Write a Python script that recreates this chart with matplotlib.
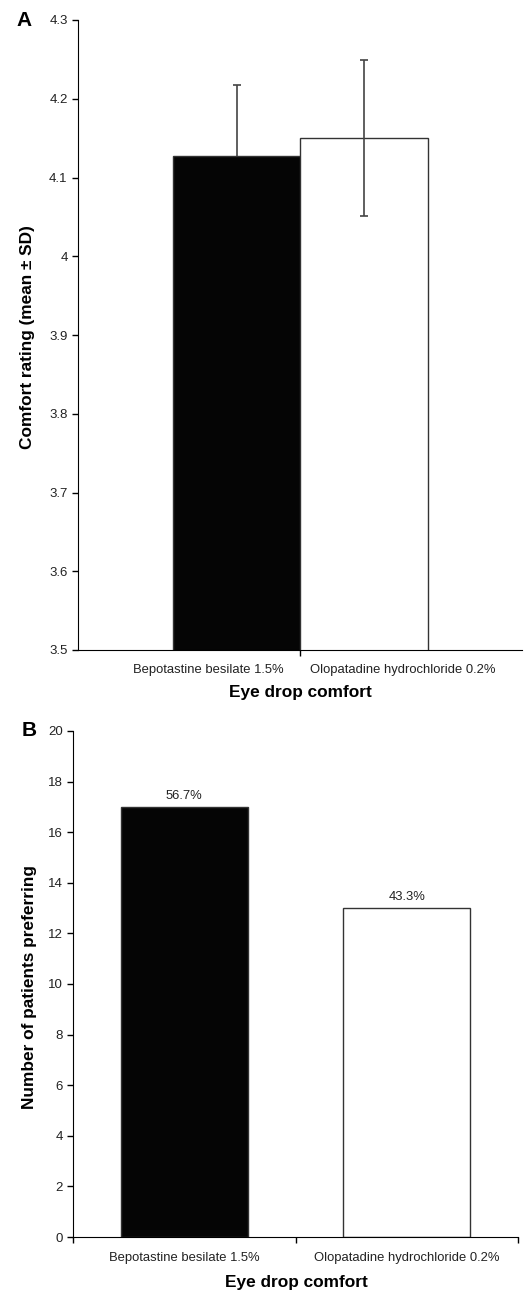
import matplotlib
matplotlib.use("Agg")
import matplotlib.pyplot as plt

plt.rcParams['font.family'] = ['Liberation Sans', 'DejaVu Sans']

categories = ["Bepotastine besilate 1.5%", "Olopatadine hydrochloride 0.2%"]
comfort_mean = [4.127, 4.150]
comfort_sd = [0.091, 0.099]
prefer_counts = [17, 13]
prefer_pct = ["56.7%", "43.3%"]
bar_colors = ["#050505", "white"]

W, H = 529, 1292
fig = plt.figure(figsize=(W/100, H/100), dpi=100)

tick_color = "#222222"
TICK_FS = 9.5
CAT_FS = 9.4
LAB_FS = 12.4

def fx(px):
    return px / W

def fy(py):
    return 1 - py / H

# ---------- Panel A ----------
axA = fig.add_axes([fx(78), fy(650), 444/W, 630/H])
a_centers = [0.716, 1.288]
a_width = 0.577
axA.bar(a_centers, comfort_mean, width=a_width, color=bar_colors,
        edgecolor="#333333", linewidth=1.0, zorder=2)
for x, m, s, z in zip(a_centers, comfort_mean, comfort_sd, [1, 3]):
    axA.errorbar([x], [m], yerr=[s], fmt='none', ecolor="#444444",
                 elinewidth=1.2, capsize=3, capthick=1.2, zorder=z)
axA.set_xlim(0, 2)
axA.set_ylim(3.5, 4.3)
axA.set_yticks([3.5, 3.6, 3.7, 3.8, 3.9, 4.0, 4.1, 4.2, 4.3])
axA.set_yticklabels(["3.5", "3.6", "3.7", "3.8", "3.9", "4", "4.1", "4.2", "4.3"])
axA.set_xticks([0.586, 1.464])
axA.set_xticklabels(categories, fontsize=CAT_FS, color=tick_color)
axA.tick_params(axis='x', which='major', length=0, pad=10)
axA.set_xticks([1.0], minor=True)
axA.tick_params(axis='x', which='minor', length=4, width=1, direction='out')
axA.tick_params(axis='y', length=4, width=1, labelsize=TICK_FS, labelcolor=tick_color)
axA.spines['top'].set_visible(False)
axA.spines['right'].set_visible(False)
fig.text(fx(300), fy(692), "Eye drop comfort", fontsize=LAB_FS, fontweight='bold',
         ha='center', va='center')
fig.text(fx(28), fy(337), "Comfort rating (mean \u00b1 SD)", fontsize=LAB_FS,
         fontweight='bold', ha='center', va='center', rotation=90)
fig.text(fx(16), fy(21), "A", fontsize=15, fontweight='bold', va='center', ha='left')

# ---------- Panel B ----------
axB = fig.add_axes([fx(73), fy(1237), 445/W, 506/H])
b_centers = [0.5, 1.5]
b_width = 0.573
axB.bar(b_centers, prefer_counts, width=b_width, color=bar_colors,
        edgecolor="#333333", linewidth=1.0, zorder=2)
for x, v, t in zip(b_centers, prefer_counts, prefer_pct):
    axB.text(x, v + 0.2, t, ha='center', va='bottom', fontsize=CAT_FS, color=tick_color)
axB.set_xlim(0, 2)
axB.set_ylim(0, 20)
axB.set_yticks(range(0, 21, 2))
axB.set_xticks(b_centers)
axB.set_xticklabels(categories, fontsize=CAT_FS, color=tick_color)
axB.tick_params(axis='x', which='major', length=0, pad=11)
axB.set_xticks([0, 1.0, 2.0], minor=True)
axB.tick_params(axis='x', which='minor', length=4, width=1, direction='out')
axB.tick_params(axis='y', length=4, width=1, labelsize=TICK_FS, labelcolor=tick_color)
axB.spines['top'].set_visible(False)
axB.spines['right'].set_visible(False)
fig.text(fx(296), fy(1283), "Eye drop comfort", fontsize=LAB_FS, fontweight='bold',
         ha='center', va='center')
fig.text(fx(30), fy(987), "Number of patients preferring", fontsize=LAB_FS,
         fontweight='bold', ha='center', va='center', rotation=90)
fig.text(fx(22), fy(731), "B", fontsize=15, fontweight='bold', va='center', ha='left')

fig.savefig("out.png", dpi=100)
